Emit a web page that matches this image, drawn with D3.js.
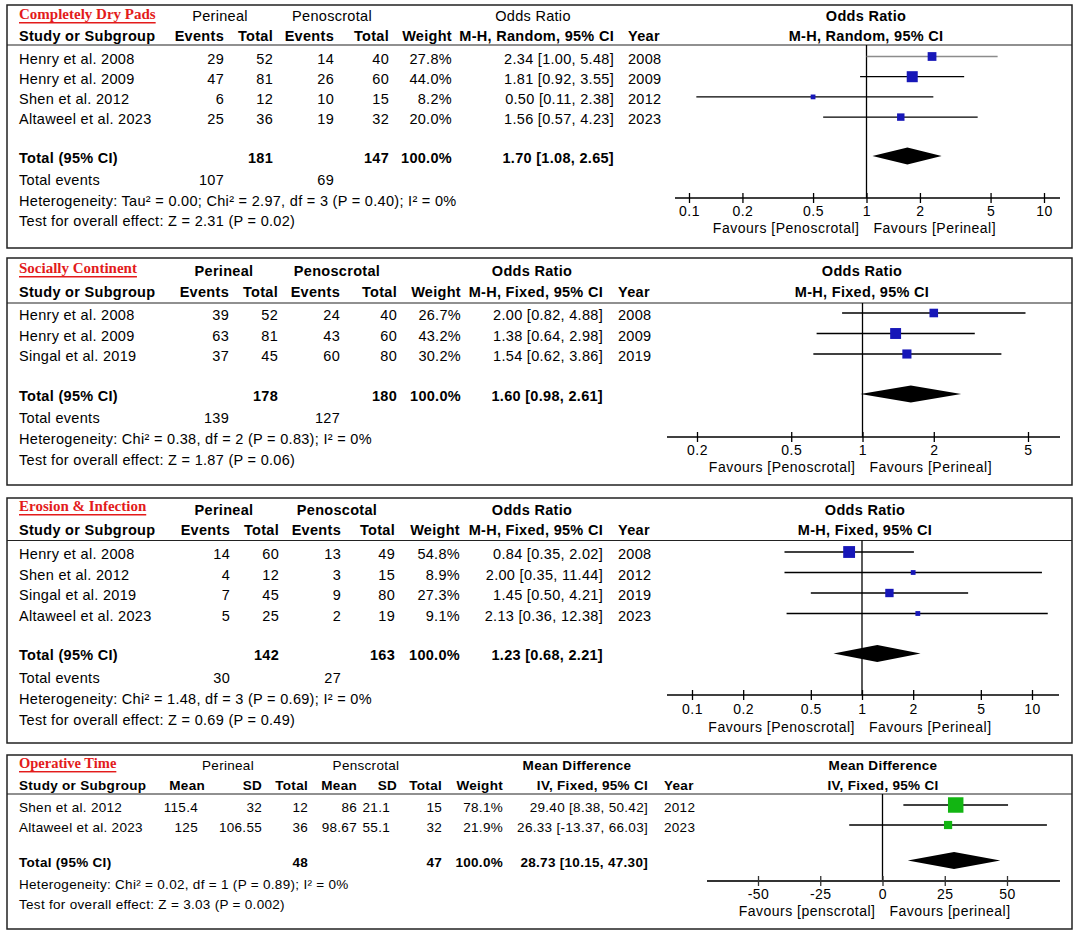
<!DOCTYPE html>
<html>
<head>
<meta charset="utf-8">
<script src="https://cdn.jsdelivr.net/npm/d3@7"></script>
<style>
  body { margin: 0; background: #fff; }
  text { font-family: "Liberation Sans", Arial, sans-serif; fill: #000; }
  .title { font-family: "Liberation Serif", "Times New Roman", serif; font-weight: bold; fill: #e31b1b; text-decoration: underline; }
</style>
</head>
<body>
<script>
// ---- Completely Dry Pads ----
const dryStudy = ["Henry et al. 2008", "Henry et al. 2009", "Shen et al. 2012", "Altaweel et al. 2023"];
const dryPerEvents = [29, 47, 6, 25];
const dryPerTotal = [52, 81, 12, 36];
const dryPenEvents = [14, 26, 10, 19];
const dryPenTotal = [40, 60, 15, 32];
const dryWeight = [27.8, 44.0, 8.2, 20.0];
const dryOR = [2.34, 1.81, 0.50, 1.56];
const dryLow = [1.00, 0.92, 0.11, 0.57];
const dryHigh = [5.48, 3.55, 2.38, 4.23];
const dryYear = [2008, 2009, 2012, 2023];
const dryTotal = [1.70, 1.08, 2.65];
const dryTotalN = [181, 147];
const dryTotalEvents = [107, 69];
const dryTicks = [0.1, 0.2, 0.5, 1, 2, 5, 10];

// ---- Socially Continent ----
const socStudy = ["Henry et al. 2008", "Henry et al. 2009", "Singal et al. 2019"];
const socPerEvents = [39, 63, 37];
const socPerTotal = [52, 81, 45];
const socPenEvents = [24, 43, 60];
const socPenTotal = [40, 60, 80];
const socWeight = [26.7, 43.2, 30.2];
const socOR = [2.00, 1.38, 1.54];
const socLow = [0.82, 0.64, 0.62];
const socHigh = [4.88, 2.98, 3.86];
const socYear = [2008, 2009, 2019];
const socTotal = [1.60, 0.98, 2.61];
const socTotalN = [178, 180];
const socTotalEvents = [139, 127];
const socTicks = [0.2, 0.5, 1, 2, 5];

// ---- Erosion & Infection ----
const eroStudy = ["Henry et al. 2008", "Shen et al. 2012", "Singal et al. 2019", "Altaweel et al. 2023"];
const eroPerEvents = [14, 4, 7, 5];
const eroPerTotal = [60, 12, 45, 25];
const eroPenEvents = [13, 3, 9, 2];
const eroPenTotal = [49, 15, 80, 19];
const eroWeight = [54.8, 8.9, 27.3, 9.1];
const eroOR = [0.84, 2.00, 1.45, 2.13];
const eroLow = [0.35, 0.35, 0.50, 0.36];
const eroHigh = [2.02, 11.44, 4.21, 12.38];
const eroYear = [2008, 2012, 2019, 2023];
const eroTotal = [1.23, 0.68, 2.21];
const eroTotalN = [142, 163];
const eroTotalEvents = [30, 27];
const eroTicks = [0.1, 0.2, 0.5, 1, 2, 5, 10];

// ---- Operative Time ----
const opStudy = ["Shen et al. 2012", "Altaweel et al. 2023"];
const opPerMean = [115.4, 125];
const opPerSD = [32, 106.55];
const opPerTotal = [12, 36];
const opPenMean = [86, 98.67];
const opPenSD = [21.1, 55.1];
const opPenTotal = [15, 32];
const opWeight = [78.1, 21.9];
const opMD = [29.40, 26.33];
const opLow = [8.38, -13.37];
const opHigh = [50.42, 66.03];
const opYear = [2012, 2023];
const opTotal = [28.73, 10.15, 47.30];
const opTotalN = [48, 47];
const opTicks = [-50, -25, 0, 25, 50];

const svg = d3.select("body").append("svg").attr("width", 1080).attr("height", 934);

const f2 = (v) => v.toFixed(2);
const ciText = (e, l, h) => `${f2(e)} [${f2(l)}, ${f2(h)}]`;
const pct = (v) => v.toFixed(1) + "%";

function drawPanel(p) {
  const g = svg.append("g");
  const fs = p.fontSize;

  // frame and header rule
  g.append("rect")
    .attr("x", 7).attr("y", p.top)
    .attr("width", 1065).attr("height", p.bottom - p.top)
    .attr("fill", "none").attr("stroke", "#222").attr("stroke-width", 1.5);
  g.append("line")
    .attr("x1", 7).attr("x2", 1072).attr("y1", p.hline).attr("y2", p.hline)
    .attr("stroke", "#222").attr("stroke-width", 1.2);

  const txt = (t, x, y, opts = {}) =>
    g.append("text")
      .attr("x", x).attr("y", y)
      .attr("dominant-baseline", "central")
      .attr("text-anchor", opts.anchor || "start")
      .attr("font-size", opts.size || fs)
      .attr("font-weight", opts.bold ? "bold" : "normal")
      .attr("letter-spacing", 0.3)
      .text(t);

  // title
  g.append("text").attr("class", "title")
    .attr("x", 19).attr("y", p.titleY)
    .attr("dominant-baseline", "central")
    .attr("font-size", p.titleSize)
    .text(p.title);

  // header rows
  p.groups.forEach(([t, x, bold]) => txt(t, x, p.h1, { anchor: "middle", bold }));
  txt("Study or Subgroup", 19, p.h2, { bold: true });
  p.header.forEach(([t, x]) => txt(t, x, p.h2, { anchor: "end", bold: true }));
  txt("Year", p.yearX, p.h2, { bold: true });
  txt(p.plotTitle[0], p.plotHeaderX, p.h1, { anchor: "middle", bold: true });
  txt(p.plotTitle[1], p.plotHeaderX, p.h2, { anchor: "middle", bold: true });

  // study rows
  const y = d3.scaleLinear().domain([0, 1]).range([p.row0, p.row0 + p.rowStep]);
  p.study.forEach((s, i) => {
    txt(s, 19, y(i));
    p.cols.forEach(([x, get]) => txt(get(i), x, y(i), { anchor: "end" }));
    txt(p.year[i], p.yearX, y(i));
  });

  // totals
  txt("Total (95% CI)", 19, p.totalY, { bold: true });
  p.totalCols.forEach(([t, x]) => txt(t, x, p.totalY, { anchor: "end", bold: true }));
  if (p.eventsY) {
    txt("Total events", 19, p.eventsY);
    p.eventCols.forEach(([t, x]) => txt(t, x, p.eventsY, { anchor: "end" }));
  }
  txt(p.het, 19, p.hetY);
  txt(p.test, 19, p.testY);

  // forest plot
  const x = p.x;
  const size = d3.scaleSqrt().domain([0, 100]).range([0, p.maxBox]);
  const my = (i) => y(i) - 2;

  g.append("line")
    .attr("x1", x(p.nullValue)).attr("x2", x(p.nullValue))
    .attr("y1", p.hline).attr("y2", p.axisY)
    .attr("stroke", "#000").attr("stroke-width", 1.3);

  g.selectAll(".ci").data(p.study).join("line")
    .attr("x1", (d, i) => x(p.low[i])).attr("x2", (d, i) => x(p.high[i]))
    .attr("y1", (d, i) => my(i)).attr("y2", (d, i) => my(i))
    .attr("stroke", (d, i) => (p.grayCI && p.grayCI.includes(i) ? "#8c8c8c" : "#000"))
    .attr("stroke-width", 1.3);

  g.selectAll(".box").data(p.study).join("rect")
    .attr("x", (d, i) => x(p.est[i]) - size(p.weight[i]) / 2)
    .attr("y", (d, i) => my(i) - size(p.weight[i]) / 2)
    .attr("width", (d, i) => size(p.weight[i]))
    .attr("height", (d, i) => size(p.weight[i]))
    .attr("fill", p.boxColor);

  const dy = p.totalY - 1.5;
  const [te, tl, th] = p.total;
  g.append("polygon")
    .attr("points", [[x(tl), dy], [x(te), dy - 8.5], [x(th), dy], [x(te), dy + 8.5]].map((q) => q.join(",")).join(" "))
    .attr("fill", "#000");

  // axis
  g.append("line")
    .attr("x1", p.axisExtent[0]).attr("x2", p.axisExtent[1])
    .attr("y1", p.axisY).attr("y2", p.axisY)
    .attr("stroke", p.axisColor).attr("stroke-width", p.axisWidth);

  const axis = g.append("g")
    .attr("transform", `translate(0,${p.axisY})`)
    .call(d3.axisBottom(x).tickValues(p.ticks).tickFormat(String).tickSize(5));
  axis.select(".domain").remove();
  axis.selectAll(".tick line").attr("y1", -5).attr("y2", 5).attr("stroke", p.axisColor).attr("stroke-width", 1.3);
  axis.selectAll(".tick text")
    .attr("y", p.tickLabelY - p.axisY).attr("dy", null)
    .attr("dominant-baseline", "central")
    .attr("font-size", 14).attr("font-family", "Liberation Sans, Arial, sans-serif")
    .attr("letter-spacing", 0.5)
    .attr("fill", p.tickColor);
  axis.attr("font-size", null).attr("font-family", null);

  g.append("text")
    .attr("x", x(p.nullValue) - 7).attr("y", p.favY)
    .attr("dominant-baseline", "central").attr("text-anchor", "end")
    .attr("font-size", 14).attr("letter-spacing", 0.5)
    .text(p.favours[0]);
  g.append("text")
    .attr("x", x(p.nullValue) + 7).attr("y", p.favY)
    .attr("dominant-baseline", "central").attr("text-anchor", "start")
    .attr("font-size", 14).attr("letter-spacing", 0.5)
    .text(p.favours[1]);
}

// Panel 1
drawPanel({
  title: "Completely Dry Pads", titleSize: 15, fontSize: 14.5,
  top: 5, bottom: 248, titleY: 14, h1: 15.5, h2: 36, hline: 45,
  row0: 58.5, rowStep: 20.2, totalY: 157.5, eventsY: 180, hetY: 200.5, testY: 221,
  groups: [["Perineal", 220, false], ["Penoscrotal", 332, false], ["Odds Ratio", 533, false]],
  header: [["Events", 224], ["Total", 273], ["Events", 334], ["Total", 389], ["Weight", 452], ["M-H, Random, 95% CI", 614]],
  yearX: 628,
  plotTitle: ["Odds Ratio", "M-H, Random, 95% CI"], plotHeaderX: 866,
  study: dryStudy, year: dryYear,
  cols: [
    [224, (i) => dryPerEvents[i]], [273, (i) => dryPerTotal[i]],
    [334, (i) => dryPenEvents[i]], [389, (i) => dryPenTotal[i]],
    [452, (i) => pct(dryWeight[i])], [614, (i) => ciText(dryOR[i], dryLow[i], dryHigh[i])]
  ],
  totalCols: [[dryTotalN[0], 273], [dryTotalN[1], 389], ["100.0%", 452], [ciText(...dryTotal), 614]],
  eventCols: [[dryTotalEvents[0], 224], [dryTotalEvents[1], 334]],
  het: "Heterogeneity: Tau\u00b2 = 0.00; Chi\u00b2 = 2.97, df = 3 (P = 0.40); I\u00b2 = 0%",
  test: "Test for overall effect: Z = 2.31 (P = 0.02)",
  x: d3.scaleLog().domain([0.1, 10]).range([689, 1044]), nullValue: 1,
  est: dryOR, low: dryLow, high: dryHigh, weight: dryWeight, total: dryTotal,
  maxBox: 16.6, boxColor: "#1717b8", grayCI: [0],
  axisY: 198, tickLabelY: 211, favY: 228, axisExtent: [675, 1060], ticks: dryTicks,
  axisColor: "#000", axisWidth: 1.3, tickColor: "#000",
  favours: ["Favours [Penoscrotal]", "Favours [Perineal]"]
});

// Panel 2
drawPanel({
  title: "Socially Continent", titleSize: 15, fontSize: 14.5,
  top: 258, bottom: 485, titleY: 268, h1: 270.5, h2: 292, hline: 303,
  row0: 315, rowStep: 20.5, totalY: 395.5, eventsY: 418, hetY: 439, testY: 459.5,
  groups: [["Perineal", 224, true], ["Penoscrotal", 337, true], ["Odds Ratio", 532, true]],
  header: [["Events", 229], ["Total", 278], ["Events", 340], ["Total", 397], ["Weight", 461], ["M-H, Fixed, 95% CI", 603]],
  yearX: 618,
  plotTitle: ["Odds Ratio", "M-H, Fixed, 95% CI"], plotHeaderX: 862,
  study: socStudy, year: socYear,
  cols: [
    [229, (i) => socPerEvents[i]], [278, (i) => socPerTotal[i]],
    [340, (i) => socPenEvents[i]], [397, (i) => socPenTotal[i]],
    [461, (i) => pct(socWeight[i])], [603, (i) => ciText(socOR[i], socLow[i], socHigh[i])]
  ],
  totalCols: [[socTotalN[0], 278], [socTotalN[1], 397], ["100.0%", 461], [ciText(...socTotal), 603]],
  eventCols: [[socTotalEvents[0], 229], [socTotalEvents[1], 340]],
  het: "Heterogeneity: Chi\u00b2 = 0.38, df = 2 (P = 0.83); I\u00b2 = 0%",
  test: "Test for overall effect: Z = 1.87 (P = 0.06)",
  x: d3.scaleLog().domain([0.2, 5]).range([697, 1028]), nullValue: 1,
  est: socOR, low: socLow, high: socHigh, weight: socWeight, total: socTotal,
  maxBox: 16.6, boxColor: "#1717b8",
  axisY: 437, tickLabelY: 450, favY: 467, axisExtent: [667, 1060], ticks: socTicks,
  axisColor: "#000", axisWidth: 1.3, tickColor: "#000",
  favours: ["Favours [Penoscrotal]", "Favours [Perineal]"]
});

// Panel 3
drawPanel({
  title: "Erosion & Infection", titleSize: 15, fontSize: 14.5,
  top: 498, bottom: 743, titleY: 506, h1: 510, h2: 530, hline: 540.5,
  row0: 554, rowStep: 20.5, totalY: 655, eventsY: 678, hetY: 699, testY: 719.5,
  groups: [["Perineal", 224, true], ["Penoscotal", 337, true], ["Odds Ratio", 532, true]],
  header: [["Events", 230], ["Total", 279], ["Events", 341], ["Total", 395], ["Weight", 460], ["M-H, Fixed, 95% CI", 603]],
  yearX: 618,
  plotTitle: ["Odds Ratio", "M-H, Fixed, 95% CI"], plotHeaderX: 865,
  study: eroStudy, year: eroYear,
  cols: [
    [230, (i) => eroPerEvents[i]], [279, (i) => eroPerTotal[i]],
    [341, (i) => eroPenEvents[i]], [395, (i) => eroPenTotal[i]],
    [460, (i) => pct(eroWeight[i])], [603, (i) => ciText(eroOR[i], eroLow[i], eroHigh[i])]
  ],
  totalCols: [[eroTotalN[0], 279], [eroTotalN[1], 395], ["100.0%", 460], [ciText(...eroTotal), 603]],
  eventCols: [[eroTotalEvents[0], 230], [eroTotalEvents[1], 341]],
  het: "Heterogeneity: Chi\u00b2 = 1.48, df = 3 (P = 0.69); I\u00b2 = 0%",
  test: "Test for overall effect: Z = 0.69 (P = 0.49)",
  x: d3.scaleLog().domain([0.1, 10]).range([692, 1032]), nullValue: 1,
  est: eroOR, low: eroLow, high: eroHigh, weight: eroWeight, total: eroTotal,
  maxBox: 16, boxColor: "#1717b8",
  axisY: 695, tickLabelY: 709, favY: 727, axisExtent: [667, 1059], ticks: eroTicks,
  axisColor: "#000", axisWidth: 1.3, tickColor: "#000",
  favours: ["Favours [Penoscrotal]", "Favours [Perineal]"]
});

// Panel 4
drawPanel({
  title: "Operative Time", titleSize: 14.5, fontSize: 13.5,
  top: 755, bottom: 929, titleY: 763, h1: 765.5, h2: 785.5, hline: 794,
  row0: 807, rowStep: 20, totalY: 862, eventsY: null, hetY: 884.5, testY: 904,
  groups: [["Perineal", 228, false], ["Penscrotal", 366, false], ["Mean Difference", 577, true]],
  header: [["Mean", 205], ["SD", 262], ["Total", 308], ["Mean", 357], ["SD", 397], ["Total", 442], ["Weight", 503], ["IV, Fixed, 95% CI", 648]],
  yearX: 664,
  plotTitle: ["Mean Difference", "IV, Fixed, 95% CI"], plotHeaderX: 883,
  study: opStudy, year: opYear,
  cols: [
    [198, (i) => String(opPerMean[i])], [262, (i) => String(opPerSD[i])], [308, (i) => opPerTotal[i]],
    [357, (i) => String(opPenMean[i])], [390, (i) => String(opPenSD[i])], [442, (i) => opPenTotal[i]],
    [503, (i) => pct(opWeight[i])], [648, (i) => ciText(opMD[i], opLow[i], opHigh[i])]
  ],
  totalCols: [[opTotalN[0], 308], [opTotalN[1], 442], ["100.0%", 503], [ciText(...opTotal), 648]],
  eventCols: [],
  het: "Heterogeneity: Chi\u00b2 = 0.02, df = 1 (P = 0.89); I\u00b2 = 0%",
  test: "Test for overall effect: Z = 3.03 (P = 0.002)",
  x: d3.scaleLinear().domain([-50, 50]).range([758, 1007]), nullValue: 0,
  est: opMD, low: opLow, high: opHigh, weight: opWeight, total: opTotal,
  maxBox: 17.5, boxColor: "#12b512",
  axisY: 881, tickLabelY: 894, favY: 911, axisExtent: [707, 1060], ticks: opTicks,
  axisColor: "#333", axisWidth: 2.2, tickColor: "#666",
  favours: ["Favours [penscrotal]", "Favours [perineal]"]
});
</script>
</body>
</html>
